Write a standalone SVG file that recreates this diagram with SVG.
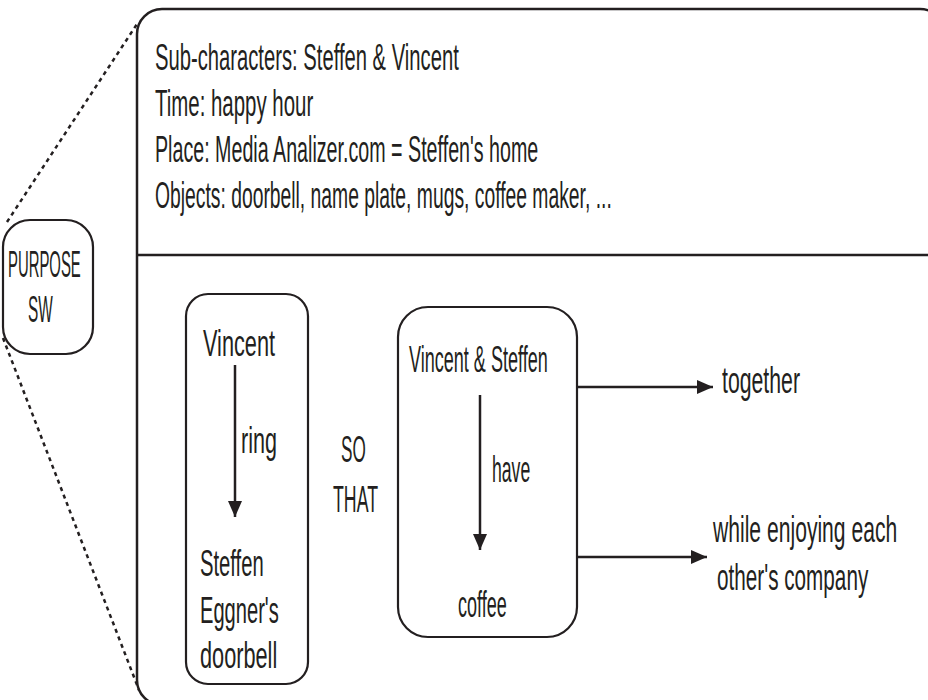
<svg xmlns="http://www.w3.org/2000/svg" width="928" height="700" viewBox="0 0 928 700">
  <style>
    text { font-family: "Liberation Sans Narrow", "Liberation Sans", Arial, sans-serif; font-size: 37px; fill: #231f20; }
    .frame { fill: none; stroke: #231f20; stroke-width: 2.5; }
    .box { fill: #ffffff; stroke: #231f20; stroke-width: 2.2; }
    .zoomline { fill: none; stroke: #231f20; stroke-width: 2.5; stroke-dasharray: 4 4; }
    .arrow { fill: none; stroke: #231f20; stroke-width: 2.5; marker-end: url(#head); }
  </style>
  <defs>
    <marker id="head" viewBox="0 0 16 14" refX="16" refY="7" markerWidth="16" markerHeight="14" markerUnits="userSpaceOnUse" orient="auto">
      <path d="M0,0 L16,7 L0,14 Z" fill="#231f20"/>
    </marker>
  </defs>
  <rect width="928" height="700" fill="#ffffff"/>

  <!-- dotted zoom lines from the small node to the detail frame -->
  <g id="zoom-lines">
    <line class="zoomline" x1="7" y1="222" x2="137" y2="24"/>
    <line class="zoomline" x1="3" y1="338" x2="139" y2="690"/>
  </g>

  <!-- detail frame with the setting list and the purpose sketch;
       labels are condensed horizontally with scale(.75,1) -->
  <g id="detail-frame">
    <rect class="frame" x="137" y="9" width="808" height="696" rx="25" ry="25"/>
    <line class="frame" x1="137" y1="255" x2="928" y2="255"/>
    <text transform="translate(155,70) scale(.75,1)" textLength="405" lengthAdjust="spacingAndGlyphs">Sub-characters: Steffen &amp; Vincent</text>
    <text transform="translate(155,116) scale(.75,1)" textLength="211" lengthAdjust="spacingAndGlyphs">Time: happy hour</text>
    <text transform="translate(155,162) scale(.75,1)" textLength="511" lengthAdjust="spacingAndGlyphs">Place: Media Analizer.com = Steffen's home</text>
    <text transform="translate(155,208) scale(.75,1)" textLength="609" lengthAdjust="spacingAndGlyphs">Objects: doorbell, name plate, mugs, coffee maker, ...</text>
  </g>

  <!-- small purpose node on the left -->
  <g id="purpose-node">
    <rect class="box" x="3" y="220" width="90" height="134" rx="27" ry="27"/>
    <text transform="translate(8,277) scale(.75,1)" textLength="97" lengthAdjust="spacingAndGlyphs">PURPOSE</text>
    <text transform="translate(28,322) scale(.75,1)" textLength="33" lengthAdjust="spacingAndGlyphs">SW</text>
  </g>

  <!-- cause: Vincent rings the doorbell -->
  <g id="ring-node">
    <rect class="box" x="186" y="294" width="122" height="390" rx="22" ry="22"/>
    <text transform="translate(203,356) scale(.75,1)" textLength="96" lengthAdjust="spacingAndGlyphs">Vincent</text>
    <text transform="translate(241,453) scale(.75,1)" textLength="48" lengthAdjust="spacingAndGlyphs">ring</text>
    <text transform="translate(200,576) scale(.75,1)" textLength="85" lengthAdjust="spacingAndGlyphs">Steffen</text>
    <text transform="translate(200,623) scale(.75,1)" textLength="105" lengthAdjust="spacingAndGlyphs">Eggner's</text>
    <text transform="translate(200,668) scale(.75,1)" textLength="103" lengthAdjust="spacingAndGlyphs">doorbell</text>
  </g>

  <!-- linking phrase -->
  <g id="so-that">
    <text transform="translate(341,462) scale(.75,1)" textLength="33" lengthAdjust="spacingAndGlyphs">SO</text>
    <text transform="translate(333,512) scale(.75,1)" textLength="60" lengthAdjust="spacingAndGlyphs">THAT</text>
  </g>

  <!-- effect: they have coffee -->
  <g id="coffee-node">
    <rect class="box" x="398" y="307" width="179" height="330" rx="30" ry="30"/>
    <text transform="translate(409,372) scale(.75,1)" textLength="185" lengthAdjust="spacingAndGlyphs">Vincent &amp; Steffen</text>
    <text transform="translate(492,482) scale(.75,1)" textLength="51" lengthAdjust="spacingAndGlyphs">have</text>
    <text transform="translate(458,617) scale(.75,1)" textLength="65" lengthAdjust="spacingAndGlyphs">coffee</text>
  </g>

  <!-- outcomes (near the right edge, so condensed a bit more) -->
  <g id="together-node">
    <text transform="translate(722,393) scale(.75,1)" textLength="104" lengthAdjust="spacingAndGlyphs">together</text>
  </g>
  <g id="company-node">
    <text transform="translate(713,542) scale(.55,1)" textLength="335" lengthAdjust="spacingAndGlyphs">while enjoying each</text>
    <text transform="translate(717,590) scale(.55,1)" textLength="275" lengthAdjust="spacingAndGlyphs">other's company</text>
  </g>

  <!-- connectors -->
  <g id="connectors">
    <line class="arrow" x1="235" y1="365" x2="235" y2="517"/>
    <line class="arrow" x1="480" y1="395" x2="480" y2="550"/>
    <line class="arrow" x1="578" y1="387" x2="713" y2="387"/>
    <line class="arrow" x1="578" y1="557" x2="707" y2="557"/>
  </g>
</svg>
